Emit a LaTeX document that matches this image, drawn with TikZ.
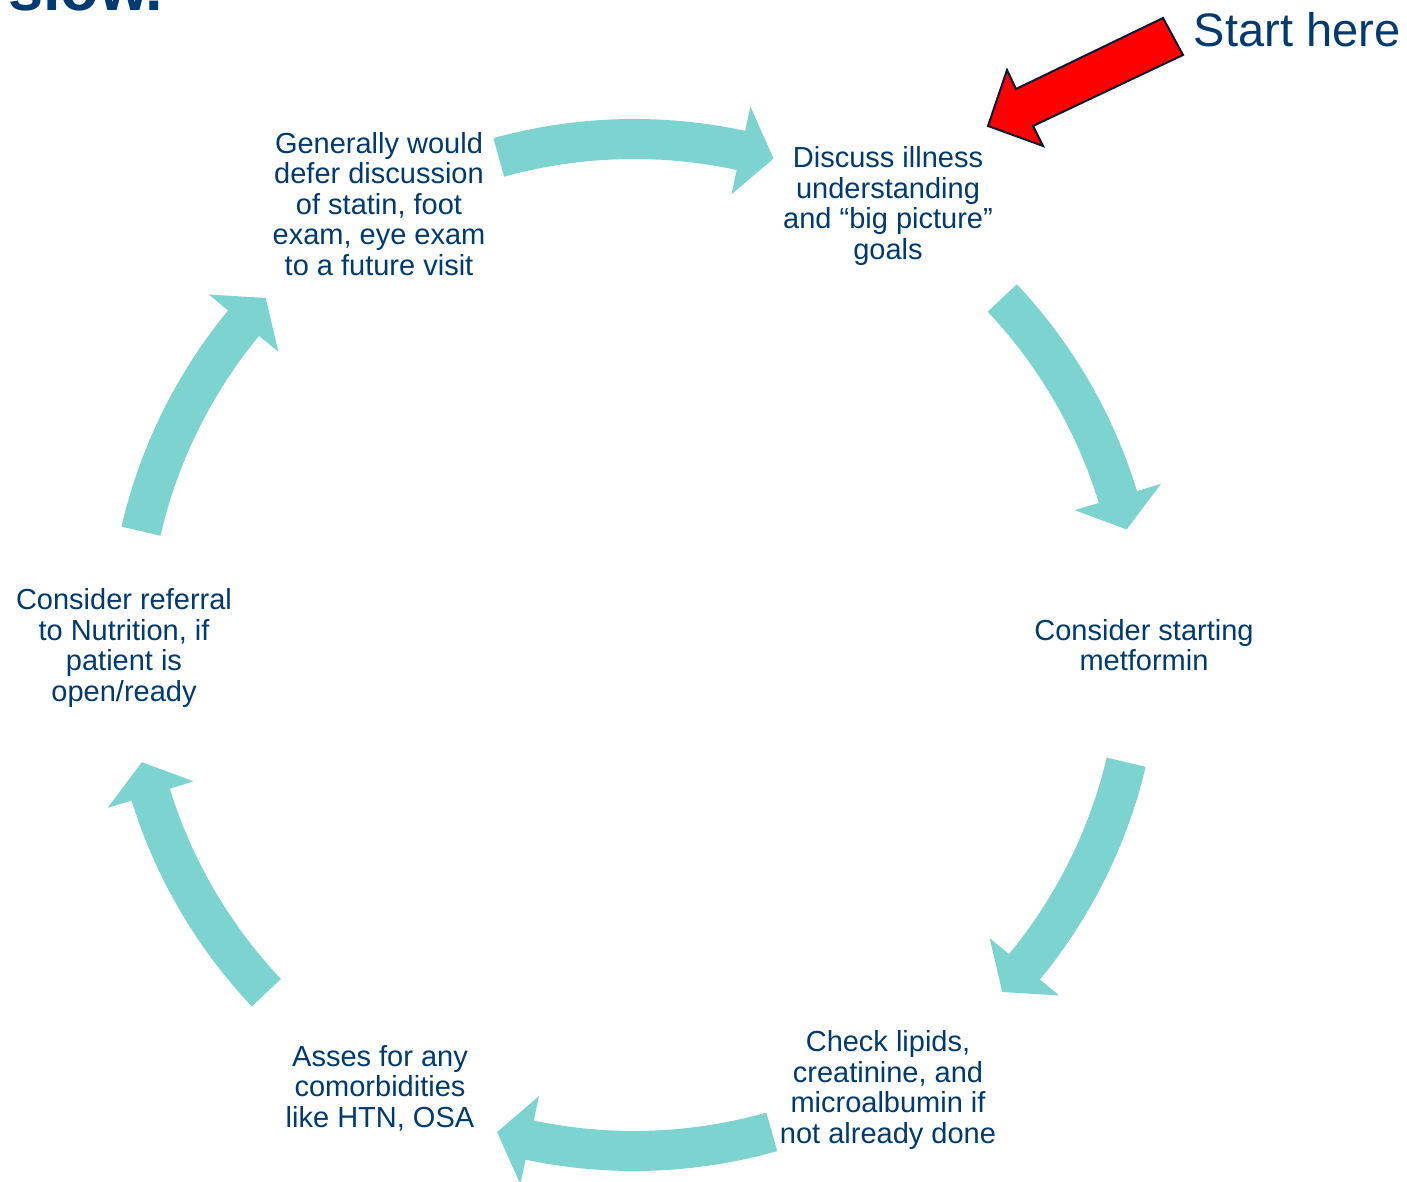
\documentclass[tikz,border=0pt]{standalone}
\usepackage{fontspec}
\setmainfont{Liberation Sans}
\definecolor{txtblue}{RGB}{0,58,112}
\definecolor{cycteal}{RGB}{125,211,207}
\definecolor{outlinenavy}{RGB}{10,25,50}
\tikzset{
  steptext/.style={text=txtblue, align=center, inner sep=0pt,
    font=\fontsize{29}{30.4}\selectfont},
  cycarrow/.style={fill=cycteal, draw=none},
}
% #1 tail angle, #2 tip angle (clockwise)
\newcommand\cycarr[2]{%
  \pgfmathsetmacro\hb{#2+3.8}%
  \fill[cycarrow] (#1:526) arc[start angle=#1, end angle=\hb, radius=526]
    -- (\hb:551) -- (#2:506) -- (\hb:461) -- (\hb:486)
    arc[start angle=\hb, end angle=#1, radius=486] -- cycle;
}
\begin{document}
\begin{tikzpicture}[x=1pt,y=1pt]
\useasboundingbox (0,0) rectangle (1407,1182);
\clip (0,0) rectangle (1407,1182);
\fill[white] (0,0) rectangle (1407,1182);

% cut-off title
\node[anchor=base west, inner sep=0pt, text=txtblue,
  font=\fontsize{63}{70}\selectfont\bfseries] (title) at (8,1171) {slow.};

% cycle arrows
\begin{scope}[shift={(634,537)}]
  \cycarr{105.5}{74}
  \cycarr{43.3}{13.2}
  \cycarr{-13.4}{-43.3}
  \cycarr{-74.2}{-105.7}
  \cycarr{-136.6}{-166.6}
  \cycarr{167}{136.7}
\end{scope}

% step texts
\node[steptext] (s1) at (888,976) {Discuss illness\\understanding\\and “big picture”\\goals};
\node[steptext] (s2) at (1144,537) {Consider starting\\metformin};
\node[steptext] (s3) at (888,92) {Check lipids,\\creatinine, and\\microalbumin if\\not already done};
\node[steptext] (s4) at (380,94) {Asses for any\\comorbidities\\like HTN, OSA};
\node[steptext] (s5) at (124,534) {Consider referral\\to Nutrition, if\\patient is\\open/ready};
\node[steptext] (s6) at (379,978) {Generally would\\defer discussion\\of statin, foot\\exam, eye exam\\to a future visit};

% start here
\node[text=txtblue, inner sep=0pt, font=\fontsize{47}{52}\selectfont] (start) at (1297,1152) {Start here};
\draw[outlinenavy, line width=2pt, fill=red, line join=miter]
  (1163,1164) -- (1183,1127) -- (1033,1056) -- (1043,1036) -- (988,1056)
  -- (1007,1112) -- (1016,1093) -- cycle;
\end{tikzpicture}
\end{document}
